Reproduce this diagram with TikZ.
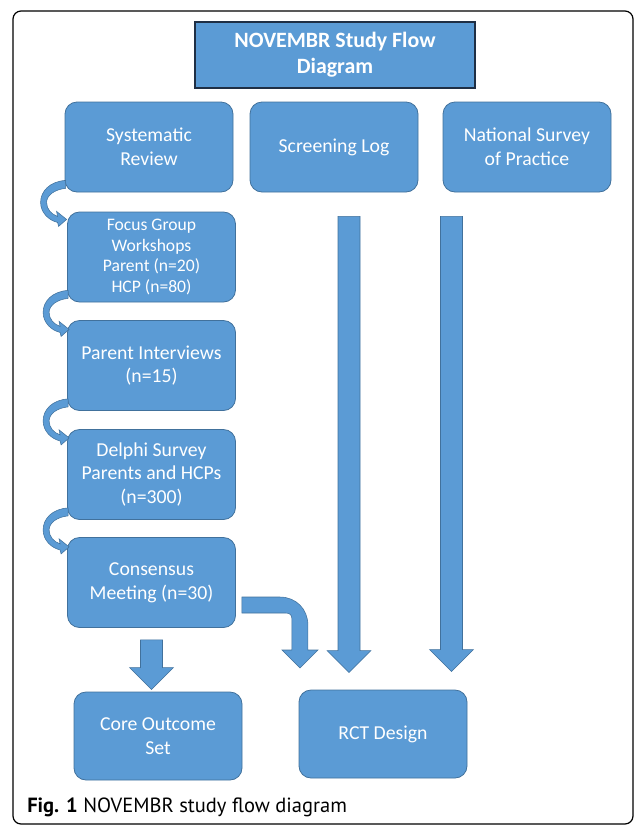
\documentclass[tikz,border=0pt]{standalone}
\usepackage{fontspec}
\setmainfont{Carlito}
\newfontfamily\capfont{PT Sans}
\usetikzlibrary{calc,positioning}
\definecolor{boxblue}{HTML}{5B9BD5}
\definecolor{edgeblue}{HTML}{41719C}
\definecolor{titleedge}{HTML}{1F2F45}

% down block arrow: #1 = top of shaft, #2 = tip (only its y is used)
\newcommand{\downblock}[2]{%
  \fill[block] let \p1=#1, \p2=#2 in
    (\x1-8.25pt,\y1) -- (\x1+8.25pt,\y1) -- (\x1+8.25pt,\y2+16.5pt) -- (\x1+16.5pt,\y2+16.5pt)
    -- (\x1,\y2) -- (\x1-16.5pt,\y2+16.5pt) -- (\x1-8.25pt,\y2+16.5pt) -- cycle;}

\begin{document}
\begin{tikzpicture}[x=0.75pt, y=-0.75pt,
    stage/.style={draw=edgeblue, fill=boxblue, rounded corners=9pt, text=white, align=center,
      minimum width=126pt, minimum height=67.5pt, inner sep=2pt, line width=0.6pt,
      font=\fontsize{14.8}{17.8}\selectfont},
    head/.style={draw=titleedge, fill=boxblue, text=white, align=center, line width=0.8pt,
      minimum width=210pt, minimum height=49.5pt, font=\bfseries\fontsize{16.4}{19.5}\selectfont},
    block/.style={fill=boxblue, draw=edgeblue, line width=0.4pt, line join=miter}]
  \useasboundingbox (0,0) rectangle (633,826);
  \draw[line width=0.9pt, rounded corners=6pt] (13,11) rectangle (633,824);

  \node[head] (title) at (335,55) {NOVEMBR Study Flow\\Diagram};
  \node[stage] (review) at (149,147) {Systematic\\Review};
  \node[stage] (screen) at (334,147) {Screening Log};
  \node[stage] (survey) at (527,147) {National Survey\\of Practice};
  \node[stage, font=\fontsize{13.2}{15.6}\selectfont] (focus) at (151.5,257) {Focus Group\\Workshops\\Parent (n=20)\\HCP (n=80)};
  \node[stage] (interview) at (151.5,365.5) {Parent Interviews\\(n=15)};
  \node[stage] (delphi) at (151.5,474.5) {Delphi Survey\\Parents and HCPs\\(n=300)};
  \node[stage] (consensus) at (151.5,582.5) {Consensus\\Meeting (n=30)};
  \node[stage, minimum height=66pt] (core) at (158,736) {Core Outcome\\Set};
  \node[stage, minimum height=66pt] (rct) at (383,734) {RCT Design};

  % curled arrows down the left column
  \foreach \n in {review,focus,interview,delphi}{
    \begin{scope}[shift={(\n.south west)}]
      \fill[block] (1,-12) .. controls (-15,-11) and (-24,-1) .. (-24,10)
        .. controls (-24,20) and (-16,28) .. (-7,30) -- (-6,34) -- (2,27) -- (-8,19) -- (-7,24)
        .. controls (-13,22) and (-18,17) .. (-18,10)
        .. controls (-18,3) and (-10,-3) .. (1,-4) -- cycle;
    \end{scope}
  }

  \downblock{($(screen.south)+(15,24)$)}{($(rct.north)+(-34,-17)$)}
  \downblock{($(survey.south)+(-75.5,24)$)}{($(rct.north)+(69,-18)$)}
  \downblock{($(consensus.south)+(0,12)$)}{($(core.north)+(-5,-2)$)}

  % bent arrow from consensus meeting to RCT design
  \coordinate (b0) at ($(consensus.east)+(6,14.5)$);
  \begin{scope}[shift={(b0)}]
    \fill[block] (0,0) -- (38,0) .. controls (54,0) and (66,12) .. (66,28) -- (66,53) -- (76,53)
      -- (58,71) -- (40,53) -- (50,53) -- (50,22) .. controls (50,18) and (48,16) .. (44,16)
      -- (0,16) -- cycle;
  \end{scope}

  \node[anchor=base west, inner sep=0, font=\capfont\fontsize{15.4}{18}\selectfont] (caption) at (27,812)
    {\textbf{Fig. 1} NOVEMBR study flow diagram};
\end{tikzpicture}
\end{document}
